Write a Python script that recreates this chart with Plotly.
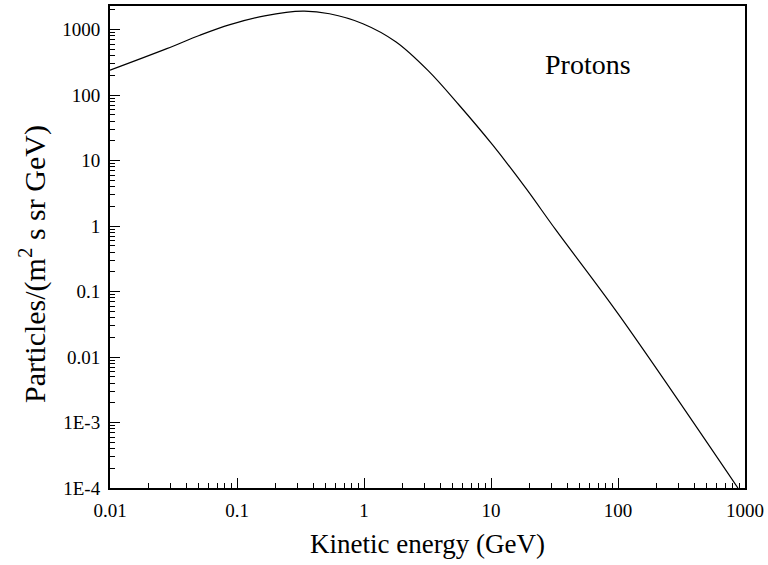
import plotly.graph_objects as go

# Proton differential flux vs kinetic energy
energy_gev = [0.01, 0.028, 0.051, 0.088, 0.165, 0.33, 0.535, 0.98, 1.79,
              3.2, 5.6, 10.3, 18.8, 32.3, 101, 880]
flux = [240, 512, 819, 1188, 1620, 1910, 1746, 1230, 647,
        236, 70.5, 17.3, 3.79, 0.88, 0.0448, 1.0e-4]

x_tickvals = [0.01, 0.1, 1, 10, 100, 1000]
x_ticktext = ["0.01", "0.1", "1", "10", "100", "1000"]
y_tickvals = [1000, 100, 10, 1, 0.1, 0.01, 1e-3, 1e-4]
y_ticktext = ["1000", "100", "10", "1", "0.1", "0.01", "1E-3", "1E-4"]

FONT = "'Liberation Serif', 'DejaVu Serif', serif"

fig = go.Figure()
fig.add_trace(go.Scatter(
    x=energy_gev, y=flux, mode="lines",
    line=dict(color="black", width=1.2, shape="spline", smoothing=1.0),
    showlegend=False, hoverinfo="skip",
))

axis_common = dict(
    type="log",
    showline=True, linecolor="black", linewidth=2, mirror=True,
    showgrid=False, zeroline=False,
    ticks="inside", ticklen=10, tickwidth=1, tickcolor="black",
    tickfont=dict(family=FONT, size=19, color="black"),
    minor=dict(ticks="inside", ticklen=5, tickwidth=1, tickcolor="black",
               dtick="D1", showgrid=False),
)

fig.update_xaxes(
    **axis_common,
    range=[-2, 3],
    tickmode="array", tickvals=x_tickvals, ticktext=x_ticktext,
    ticklabelstandoff=4,
    title=dict(text="Kinetic energy (GeV)", font=dict(family=FONT, size=27, color="black"),
               standoff=14),
)
fig.update_yaxes(
    **axis_common,
    range=[-4, 3.36],
    tickmode="array", tickvals=y_tickvals, ticktext=y_ticktext,
    ticklabelstandoff=4,
)

# y-axis title, placed as a rotated annotation
fig.add_annotation(
    text="Particles/(m<sup>2</sup> s sr GeV)", xref="paper", yref="paper",
    x=-0.121, y=0.465, xanchor="center", yanchor="middle", textangle=-90,
    showarrow=False, font=dict(family=FONT, size=30, color="black"),
)

fig.add_annotation(
    text="Protons", xref="paper", yref="paper", x=0.753, y=0.878,
    xanchor="center", yanchor="middle",
    showarrow=False, font=dict(family=FONT, size=28, color="black"),
)

fig.update_layout(
    width=768, height=565,
    margin=dict(l=110, r=22, t=4, b=77),
    paper_bgcolor="white", plot_bgcolor="white",
    font=dict(family=FONT, color="black"),
)

fig.write_html("out.html")
